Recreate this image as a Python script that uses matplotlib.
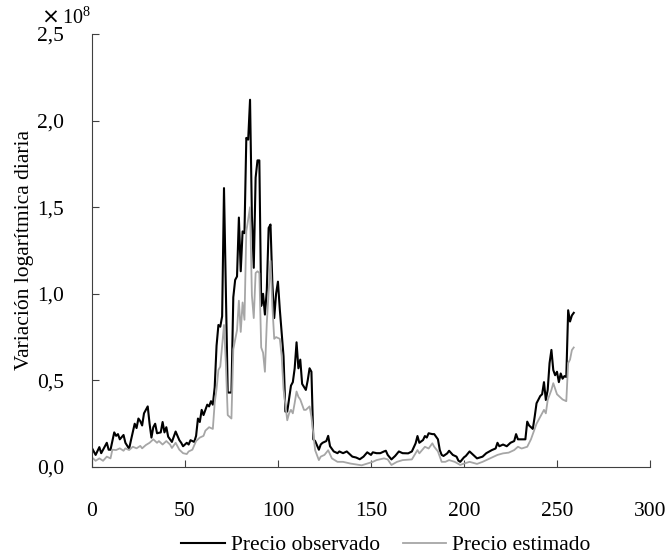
import matplotlib
matplotlib.use("Agg")
import matplotlib.pyplot as plt

# daily values, in units of 1e8
obs_x = [0, 2, 4, 5, 8, 9, 10, 12, 13, 14, 15, 17, 18, 20, 21, 23, 24, 25, 26, 27,
         28, 30, 31, 32, 33, 34, 35, 37, 38, 39, 40, 41, 43, 44, 45, 47, 48, 49, 51, 52,
         53, 55, 56, 57, 58, 59, 60, 62, 63, 64, 65, 66, 67, 68, 69, 70, 71, 73, 75, 76,
         77, 78, 79, 80, 81, 82, 83, 84, 85, 86, 87, 88, 89, 90, 91, 92, 93, 94, 95, 96,
         97, 98, 99, 100, 101, 103, 104, 105, 107, 108, 109, 110, 111, 112, 113, 115, 116, 117, 118, 119,
         120, 122, 123, 124, 126, 127, 128, 130, 132, 133, 135, 137, 139, 140, 142, 144, 146, 148, 150, 151,
         153, 155, 157, 158, 159, 161, 163, 165, 167, 170, 172, 174, 175, 176, 178, 179, 180, 181, 183, 184,
         185, 186, 187, 188, 189, 191, 192, 194, 196, 197, 198, 200, 201, 203, 205, 207, 210, 212, 215, 217,
         218, 219, 221, 223, 225, 227, 228, 229, 231, 233, 234, 235, 237, 238, 239, 241, 242, 243, 244, 245,
         246, 247, 248, 249, 250, 251, 252, 253, 254, 255, 256, 257, 258, 259]
obs_y = [0.11, 0.07, 0.115, 0.08, 0.14, 0.10, 0.10, 0.20, 0.18, 0.19, 0.16, 0.185, 0.14, 0.105, 0.155, 0.25, 0.225, 0.28, 0.265, 0.24,
         0.31, 0.35, 0.25, 0.17, 0.23, 0.25, 0.195, 0.20, 0.26, 0.20, 0.23, 0.175, 0.145, 0.175, 0.205, 0.155, 0.14, 0.12, 0.14, 0.13,
         0.155, 0.145, 0.18, 0.28, 0.26, 0.33, 0.30, 0.36, 0.35, 0.38, 0.36, 0.46, 0.70, 0.82, 0.81, 0.87, 1.61, 0.43, 0.43, 0.98,
         1.08, 1.10, 1.44, 1.13, 1.36, 1.35, 1.90, 1.89, 2.12, 1.45, 1.15, 1.67, 1.77, 1.77, 0.93, 1.00, 0.88, 1.02, 1.38, 1.40,
         1.06, 0.86, 1.00, 1.07, 0.91, 0.64, 0.32, 0.32, 0.47, 0.49, 0.57, 0.72, 0.57, 0.62, 0.48, 0.445, 0.50, 0.57, 0.55, 0.16,
         0.15, 0.10, 0.13, 0.14, 0.15, 0.18, 0.12, 0.09, 0.08, 0.09, 0.08, 0.09, 0.07, 0.06, 0.055, 0.045, 0.06, 0.085, 0.07, 0.085,
         0.08, 0.08, 0.09, 0.094, 0.07, 0.044, 0.064, 0.09, 0.08, 0.079, 0.09, 0.137, 0.179, 0.14, 0.156, 0.179, 0.17, 0.195, 0.19, 0.19,
         0.175, 0.16, 0.098, 0.07, 0.064, 0.079, 0.094, 0.07, 0.06, 0.037, 0.03, 0.056, 0.064, 0.09, 0.07, 0.05, 0.06, 0.08, 0.098, 0.107,
         0.14, 0.12, 0.13, 0.12, 0.14, 0.15, 0.19, 0.16, 0.16, 0.16, 0.262, 0.24, 0.22, 0.29, 0.368, 0.41, 0.42, 0.49, 0.387, 0.445,
         0.60, 0.676, 0.56, 0.53, 0.55, 0.49, 0.54, 0.51, 0.525, 0.52, 0.905, 0.84, 0.875, 0.89]

est_x = [0, 2, 4, 6, 8, 10, 11, 13, 15, 17, 18, 20, 22, 24, 26, 27, 29, 31, 33, 35,
         36, 38, 40, 42, 43, 45, 47, 49, 51, 52, 54, 56, 58, 60, 61, 63, 65, 66, 67, 68,
         69, 71, 72, 73, 75, 76, 78, 79, 80, 81, 82, 83, 85, 86, 87, 88, 89, 90, 91, 92,
         93, 94, 96, 97, 98, 99, 101, 102, 103, 105, 106, 107, 108, 109, 110, 111, 112, 114, 115, 117,
         118, 120, 122, 123, 125, 127, 129, 132, 135, 139, 142, 145, 148, 151, 153, 157, 159, 161, 164, 167,
         172, 175, 176, 179, 181, 183, 184, 186, 188, 190, 192, 195, 198, 200, 203, 207, 210, 214, 218, 221,
         224, 227, 229, 231, 234, 236, 237, 239, 241, 243, 244, 245, 247, 248, 250, 252, 253, 255, 256, 257,
         258, 259]
est_y = [0.056, 0.036, 0.05, 0.036, 0.06, 0.05, 0.10, 0.098, 0.108, 0.094, 0.108, 0.098, 0.117, 0.108, 0.122, 0.108, 0.127, 0.14, 0.16, 0.14,
         0.15, 0.13, 0.15, 0.13, 0.11, 0.14, 0.10, 0.08, 0.075, 0.09, 0.10, 0.15, 0.17, 0.18, 0.21, 0.23, 0.22, 0.37, 0.45, 0.56,
         0.58, 0.82, 0.60, 0.30, 0.28, 0.68, 0.79, 0.96, 0.78, 0.95, 0.85, 1.36, 1.50, 0.99, 0.86, 1.12, 1.13, 1.12, 0.69, 0.66,
         0.55, 0.83, 1.19, 0.93, 0.74, 0.75, 0.74, 0.64, 0.45, 0.27, 0.31, 0.33, 0.31, 0.37, 0.436, 0.405, 0.39, 0.33, 0.33, 0.35,
         0.29, 0.097, 0.04, 0.06, 0.07, 0.097, 0.05, 0.03, 0.03, 0.02, 0.015, 0.01, 0.02, 0.03, 0.04, 0.05, 0.044, 0.012, 0.03, 0.04,
         0.044, 0.098, 0.079, 0.117, 0.107, 0.137, 0.117, 0.09, 0.03, 0.03, 0.04, 0.03, 0.012, 0.02, 0.03, 0.018, 0.03, 0.05, 0.07, 0.079,
         0.083, 0.098, 0.117, 0.107, 0.117, 0.16, 0.19, 0.25, 0.29, 0.33, 0.31, 0.387, 0.445, 0.484, 0.42, 0.40, 0.39, 0.38, 0.60, 0.62,
         0.675, 0.69]

x_ticks = [0, 50, 100, 150, 200, 250, 300]
y_ticks = [0.0, 0.5, 1.0, 1.5, 2.0, 2.5]
y_labels = ["0,0", "0,5", "1,0", "1,5", "2,0", "2,5"]

plt.rcParams["font.family"] = "Liberation Serif"
plt.rcParams["mathtext.fontset"] = "custom"
plt.rcParams["mathtext.rm"] = "Liberation Serif"

fig = plt.figure(figsize=(6.66, 5.56), dpi=100)
ax = fig.add_axes([0.138, 0.160, 0.838, 0.779])

ax.plot(obs_x, obs_y, color="black", lw=1.5, label="Precio observado")
ax.plot(est_x, est_y, color="#a6a6a6", lw=1.3, label="Precio estimado")

ax.set_xlim(0, 300)
ax.set_ylim(0, 2.5)
ax.set_xticks(x_ticks)
ax.set_yticks(y_ticks)
ax.set_yticklabels(y_labels)
ax.tick_params(direction="in", length=5, labelsize=15.5, color="#404040")
ax.tick_params(axis="x", pad=25)
ax.tick_params(axis="y", pad=20)
for s in ["top", "right"]:
    ax.spines[s].set_visible(False)
for s in ["left", "bottom"]:
    ax.spines[s].set_color("#404040")

ax.set_ylabel("Variación logarítmica diaria", fontsize=15.5, labelpad=2)
# offset label of the y axis
ax.text(-0.092, 1.037, "×", transform=ax.transAxes, fontsize=15.5,
        family="DejaVu Sans", ha="left", va="center")
ax.text(-0.054, 1.037, r"$\mathregular{10^{8}}$", transform=ax.transAxes,
        fontsize=14.5, ha="left", va="center")

ax.legend(loc="center", bbox_to_anchor=(0.527, -0.18), ncol=2, frameon=False,
          fontsize=15.5, handlelength=2.0, handletextpad=0.3, columnspacing=1.05)

fig.savefig("out.png", dpi=100)
